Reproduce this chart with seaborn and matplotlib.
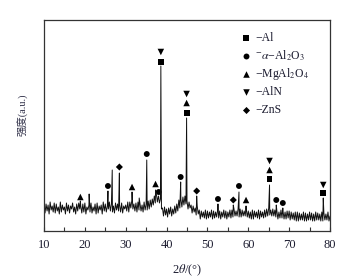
import numpy as np
import pandas as pd
import matplotlib
matplotlib.use("Agg")
import matplotlib.pyplot as plt
import seaborn as sns

# ---------------- data ----------------
# background (hand-read, 0.25 deg step from 10 to 80)
base_start, base_step = 10.0, 0.25
base_values = [
    28, 18, 27, 20, 26, 17, 29, 21, 25, 19, 28, 18, 27, 20, 24, 17,
    29, 19, 26, 21, 24, 17, 28, 20, 26, 18, 25, 22, 28, 19, 24, 17,
    27, 20, 28, 22, 25, 18, 27, 19, 28, 17, 24, 21, 26, 19, 28, 18,
    24, 20, 27, 17, 28, 18, 25, 21, 26, 17, 29, 20, 27, 19, 25, 22,
    29, 20, 27, 19, 25, 18, 28, 21, 27, 20, 26, 19, 28, 18, 25, 22,
    26, 20, 29, 19, 29, 23, 31, 22, 27, 20, 28, 19, 29, 21, 27, 20,
    26, 19, 29, 21, 27, 21, 30, 22, 31, 24, 32, 26, 35, 28, 37, 29,
    35, 28, 32, 22, 23, 15, 24, 16, 22, 14, 23, 17, 24, 15, 22, 17,
    25, 18, 27, 20, 31, 23, 32, 24, 34, 26, 35, 27, 30, 22, 29, 23,
    26, 18, 25, 19, 23, 16, 25, 17, 21, 12, 20, 14, 19, 13, 21, 12,
    20, 13, 19, 14, 21, 12, 20, 13, 19, 14, 21, 13, 20, 12, 19, 14,
    21, 13, 20, 12, 19, 14, 21, 13, 21, 14, 22, 15, 20, 15, 22, 14,
    22, 14, 21, 15, 20, 15, 22, 14, 20, 13, 19, 12, 21, 12, 20, 14,
    19, 13, 21, 12, 20, 14, 19, 13, 21, 14, 22, 15, 23, 16, 21, 15,
    22, 15, 21, 14, 20, 12, 19, 13, 21, 13, 20, 12, 19, 12, 20, 13,
    20, 11, 19, 12, 18, 11, 19, 10, 19, 10, 18, 11, 17, 11, 19, 10,
    18, 10, 17, 11, 19, 11, 18, 10, 17, 10, 19, 11, 18, 11, 17, 10,
    19, 10, 18, 11, 17, 11, 19, 10, 15,
]
# diffraction peaks
peak_pos = [18.9, 21.05, 25.65, 26.7, 28.45, 31.55, 33.3, 35.15, 37.3, 38.07,
            38.6, 43.45, 44.9, 47.37, 52.58, 56.33, 57.72, 59.45, 65.2,
            66.85, 68.45, 78.35]
peak_int = [30, 37, 40, 61, 58, 39, 33, 71, 41, 34,
            165, 49, 113, 35, 27, 26, 39, 25, 46,
            26, 23, 33]

# phase markers
al_x = [38.6, 44.9, 65.2, 78.35]
al_y = [169, 118, 52, 38]
alumina_x = [25.65, 35.15, 38.07, 43.45, 52.58, 57.72, 66.85, 68.45]
alumina_y = [45, 77, 39, 54, 32, 45, 31, 28]
spinel_x = [18.9, 31.55, 37.3, 44.9, 59.45, 65.2]
spinel_y = [34, 44, 47, 128, 31, 61]
aln_x = [38.6, 44.9, 65.2, 78.35]
aln_y = [179, 137, 70, 46]
zns_x = [28.45, 47.37, 56.33]
zns_y = [64, 40, 31]

phase_labels = ["\u2212Al", "$^{-}\\alpha$\u2212Al$_2$O$_3$", "\u2212MgAl$_2$O$_4$",
                "\u2212AlN", "\u2212ZnS"]
phase_markers = ["s", "o", "^", "v", "D"]

x_ticks = [10, 20, 30, 40, 50, 60, 70, 80]
x_label = r"2$\theta$/(°)"
y_label = "强度(a.u.)"

# ---------------- build ----------------
base_x = base_start + base_step * np.arange(len(base_values))
spec = pd.DataFrame({"x": np.concatenate([base_x, peak_pos]),
                     "y": np.concatenate([base_values, peak_int])})
spec = spec.sort_values("x").reset_index(drop=True)

marks = pd.concat([
    pd.DataFrame({"x": al_x, "y": al_y, "phase": "Al"}),
    pd.DataFrame({"x": alumina_x, "y": alumina_y, "phase": "Al2O3"}),
    pd.DataFrame({"x": spinel_x, "y": spinel_y, "phase": "MgAl2O4"}),
    pd.DataFrame({"x": aln_x, "y": aln_y, "phase": "AlN"}),
    pd.DataFrame({"x": zns_x, "y": zns_y, "phase": "ZnS"}),
], ignore_index=True)
phase_order = ["Al", "Al2O3", "MgAl2O4", "AlN", "ZnS"]
marker_size = {"s": 18, "o": 18, "^": 22, "v": 22, "D": 13}

sns.set_theme(style="white")
plt.rcParams["font.family"] = ["Liberation Serif", "Noto Sans CJK SC"]
plt.rcParams["mathtext.fontset"] = "stix"

fig = plt.figure(figsize=(3.57, 2.79), dpi=100)
ax = fig.add_axes([44 / 357, 1 - 231 / 279, 286 / 357, 211 / 279])

sns.lineplot(data=spec, x="x", y="y", ax=ax, sort=False, color="#111111",
             linewidth=0.7, estimator=None)
marker_map = dict(zip(phase_order, phase_markers))
for ph in phase_order:
    sub = marks[marks["phase"] == ph]
    mk = marker_map[ph]
    sns.scatterplot(data=sub, x="x", y="y", ax=ax, marker=mk,
                    s=marker_size[mk], color="black",
                    edgecolor="none", linewidth=0, legend=False)

ax.set_xlim(10, 80)
ax.set_ylim(0, 211)
ax.set_xticks(x_ticks)
ax.set_xticks([15, 25, 35, 45, 55, 65, 75], minor=True)
ax.set_yticks([])
ax.tick_params(axis="x", which="both", direction="in", length=3, width=0.8,
               color="#333333", bottom=True, labelsize=9, pad=6,
               labelcolor="#1c1c30")
for sp in ax.spines.values():
    sp.set_color("#333333")
    sp.set_linewidth(0.9)

ax.set_xlabel(x_label, fontsize=9, color="#1c1c30")
ax.xaxis.set_label_coords(0.5, -0.15)
ax.set_ylabel(y_label, fontsize=7.5, color="#303048",
              family=["Liberation Serif", "Noto Sans CJK SC"])
ax.yaxis.set_label_coords(-0.055, 0.55)

# legend (manual, upper right)
leg_y0 = 1 - (38 - 20) / 211
leg_dy = 18.0 / 211
mx = (246 - 44) / 286
tx = (255 - 44) / 286
for i, (lab, mk) in enumerate(zip(phase_labels, phase_markers)):
    yy = leg_y0 - i * leg_dy
    ax.scatter([mx], [yy], marker=mk, s=marker_size[mk], color="black",
               transform=ax.transAxes, linewidths=0, clip_on=False)
    ax.text(tx, yy, lab, transform=ax.transAxes, fontsize=8.5, va="center",
            ha="left", color="#1c1c30")

fig.savefig("out.png", dpi=100)
